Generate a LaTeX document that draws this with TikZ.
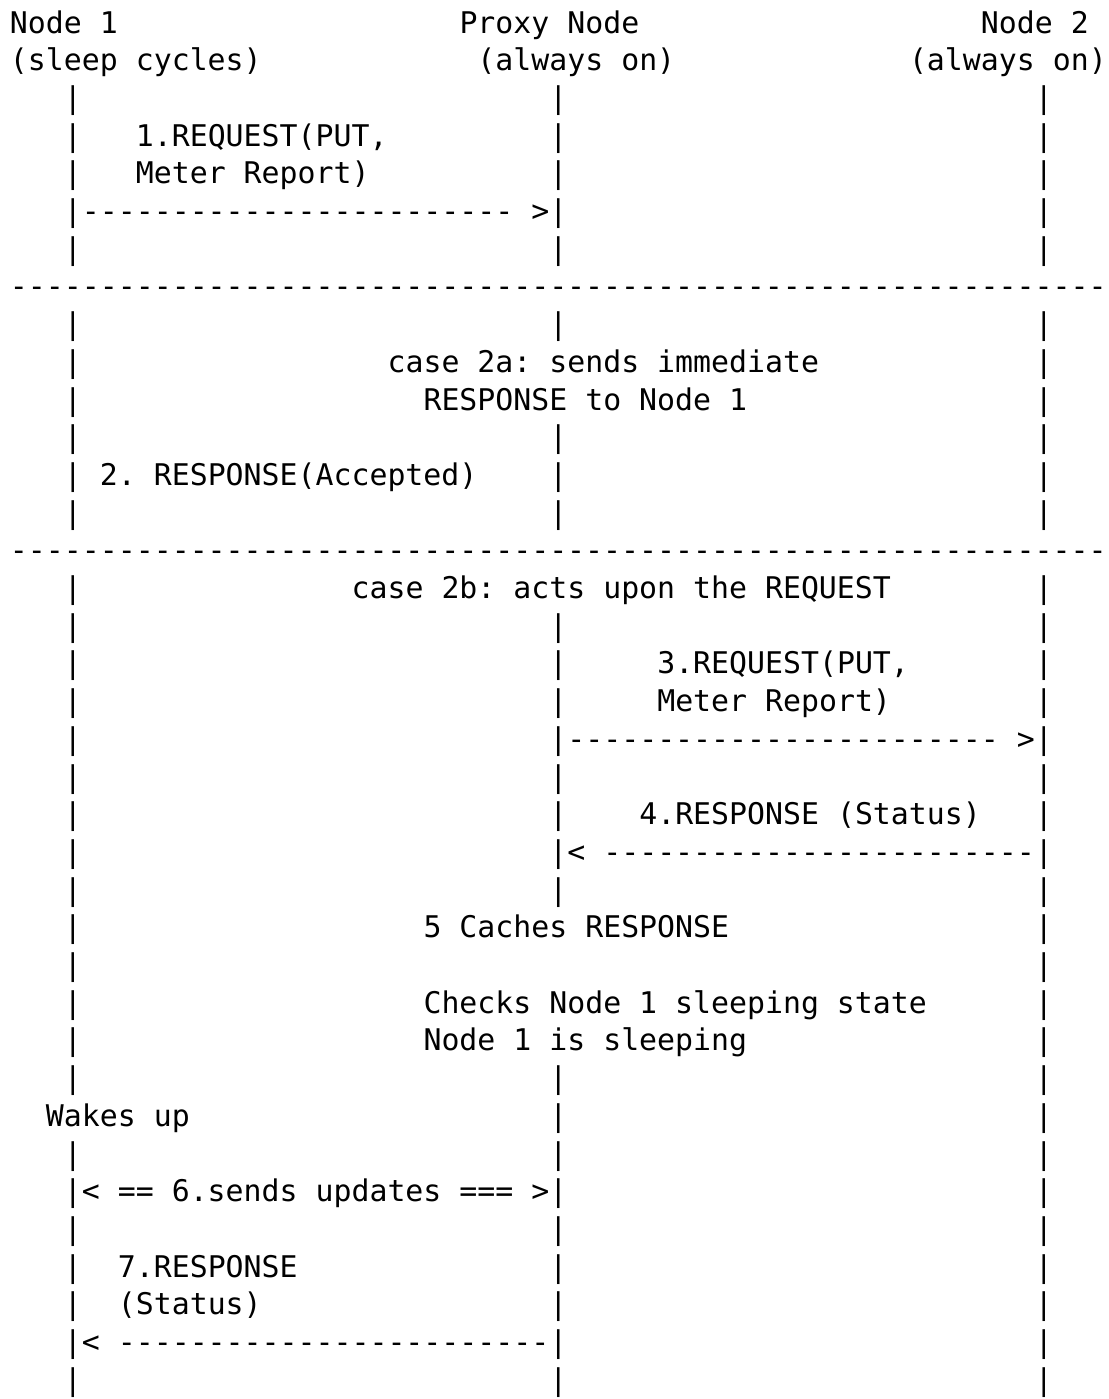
\documentclass[tikz,border=0pt]{standalone}
\usepackage{fontspec}
\setmonofont{DejaVu Sans Mono}
\usetikzlibrary{calc}

% character grid: one cell is 17.98 units wide, one line 37.7 units high
\newcommand\cellw{17.98}
\newcommand\rowh{37.7}
\tikzset{
  ascii/.style={font=\ttfamily\fontsize{14.93pt}{18pt}\selectfont,
                anchor=base west, inner sep=0pt, outer sep=0pt, text=black},
}
% \grid{name}{column}{row}{text}
\newcommand\grid[4]{\node[ascii] (#1) at ({10+#2*\cellw},{33+(#3-1)*\rowh}) {#4};}

\begin{document}
\begin{tikzpicture}[x=0.5pt,y=-0.5pt]
  \fill[white] (0,0) rectangle (1109,1399);
  \useasboundingbox (0,0) rectangle (1109,1399);

  % participants
  \grid{n1}{0}{1}{Node 1}
  \grid{px}{25}{1}{Proxy Node}
  \grid{n2}{54}{1}{Node 2}
  \grid{n1s}{0}{2}{(sleep cycles)}
  \grid{pxs}{26}{2}{(always on)}
  \grid{n2s}{50}{2}{(always on)}

  % lifelines
  \foreach \r in {3,4,5,6,7,9,10,11,12,13,14,16,17,18,19,20,21,22,23,24,25,26,27,28,29,31,32,33,34,35,36,37}
    {\grid{la\r}{3}{\r}{|}}
  \foreach \r in {3,4,5,6,7,9,12,13,14,17,18,19,20,21,22,23,24,29,30,31,32,33,34,35,36,37}
    {\grid{lb\r}{30}{\r}{|}}
  \foreach \r in {3,4,5,6,7,9,10,11,12,13,14,16,17,18,19,20,21,22,23,24,25,26,27,28,29,30,31,32,33,34,35,36,37}
    {\grid{lc\r}{57}{\r}{|}}

  % step 1
  \grid{m1a}{7}{4}{1.REQUEST(PUT,}
  \grid{m1b}{7}{5}{Meter Report)}
  \grid{a1}{4}{6}{------------------------ >}

  % case separator
  \grid{sep1}{0}{8}{-------------------------------------------------------------}

  % case 2a
  \grid{c2a}{21}{10}{case 2a: sends immediate}
  \grid{c2b}{23}{11}{RESPONSE to Node 1}
  \grid{m2}{5}{13}{2. RESPONSE(Accepted)}

  \grid{sep2}{0}{15}{-------------------------------------------------------------}

  % case 2b
  \grid{c3}{19}{16}{case 2b: acts upon the REQUEST}
  \grid{m3a}{36}{18}{3.REQUEST(PUT,}
  \grid{m3b}{36}{19}{Meter Report)}
  \grid{a3}{31}{20}{------------------------ >}
  \grid{m4}{35}{22}{4.RESPONSE (Status)}
  \grid{a4}{31}{23}{< ------------------------}
  \grid{m5}{23}{25}{5 Caches RESPONSE}
  \grid{m5b}{23}{27}{Checks Node 1 sleeping state}
  \grid{m5c}{23}{28}{Node 1 is sleeping}

  % wake-up exchange
  \grid{wk}{2}{30}{Wakes up}
  \grid{a6}{4}{32}{< == 6.sends updates === >}
  \grid{m7a}{6}{34}{7.RESPONSE}
  \grid{m7b}{6}{35}{(Status)}
  \grid{a7}{4}{36}{< ------------------------}
\end{tikzpicture}
\end{document}
